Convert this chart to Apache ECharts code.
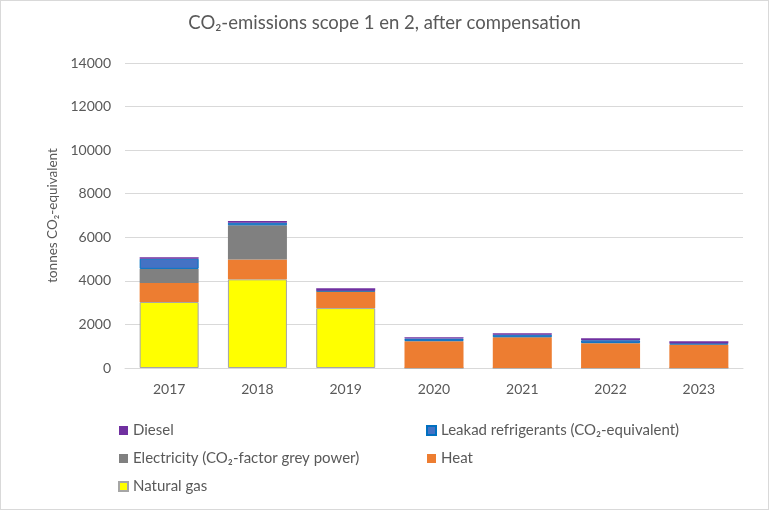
<!DOCTYPE html>
<html>
<head>
<meta charset="utf-8">
<script src="https://cdn.jsdelivr.net/npm/echarts@6/dist/echarts.min.js"></script>
<style>
html,body{margin:0;padding:0;background:#fff;}
#c{width:767px;height:508px;border:1px solid #D9D9D9;}
</style>
</head>
<body>
<div id="c"></div>
<script>
const categories = ['2017','2018','2019','2020','2021','2022','2023'];
const naturalGas = [3030, 4070, 2750, 0, 0, 0, 0];
const heat = [870, 910, 770, 1230, 1410, 1140, 1080];
const electricity = [650, 1570, 0, 0, 0, 0, 0];
const leakedRefrigerants = [470, 120, 30, 120, 120, 130, 50];
const diesel = [60, 80, 110, 60, 70, 90, 100];
const yTicks = [0, 2000, 4000, 6000, 8000, 10000, 12000, 14000];

const FONT = 'Lato, "Open Sans", sans-serif';
const TXT = '#595959';
const names = {
  diesel: 'Diesel',
  leak: 'Leakad refrigerants (CO₂-equivalent)',
  elec: 'Electricity (CO₂-factor grey power)',
  heat: 'Heat',
  gas: 'Natural gas'
};

const chart = echarts.init(document.getElementById('c'));
function bar(name, data, color, border) {
  return {
    name, type: 'bar', stack: 'total', data,
    barWidth: 59,
    itemStyle: border ? {color, borderColor: border, borderWidth: 1} : {color},
    emphasis: {disabled: true}
  };
}
const legendText = {color: TXT, fontSize: 15, fontFamily: FONT};
chart.setOption({
  animation: false,
  textStyle: {fontFamily: FONT},
  title: {
    text: 'CO₂-emissions scope 1 en 2, after compensation',
    left: 'center', top: 8,
    textStyle: {color: TXT, fontSize: 18.5, fontWeight: 'normal', fontFamily: FONT}
  },
  grid: {left: 124, right: 25, top: 62, bottom: 141},
  legend: [
    {orient: 'vertical', left: 117, top: 422, padding: 0, itemWidth: 9, itemHeight: 9, itemGap: 13,
     icon: 'rect', textStyle: legendText, data: [names.diesel, names.elec, names.gas]},
    {orient: 'vertical', left: 425, top: 422, padding: 0, itemWidth: 9, itemHeight: 9, itemGap: 13,
     icon: 'rect', textStyle: legendText, data: [names.leak, names.heat]}
  ],
  xAxis: {
    type: 'category', data: categories,
    axisLine: {lineStyle: {color: '#D9D9D9'}},
    axisTick: {show: false},
    axisLabel: {color: TXT, fontSize: 14, margin: 14, fontFamily: FONT}
  },
  yAxis: {
    type: 'value', min: yTicks[0], max: yTicks[yTicks.length - 1], interval: 2000,
    name: 'tonnes CO₂-equivalent', nameLocation: 'middle', nameGap: 53,
    nameTextStyle: {color: TXT, fontSize: 13.5, fontFamily: FONT},
    axisLine: {show: false}, axisTick: {show: false},
    axisLabel: {color: TXT, fontSize: 14, margin: 14, fontFamily: FONT,
                formatter: v => String(v)},
    splitLine: {lineStyle: {color: '#D9D9D9'}}
  },
  series: [
    bar(names.gas, naturalGas, '#FFFF00', '#A6A6A6'),
    bar(names.heat, heat, '#ED7D31'),
    bar(names.elec, electricity, '#808080'),
    bar(names.leak, leakedRefrigerants, '#4472C4', '#0070C0'),
    bar(names.diesel, diesel, '#7030A0')
  ]
});
</script>
</body>
</html>
